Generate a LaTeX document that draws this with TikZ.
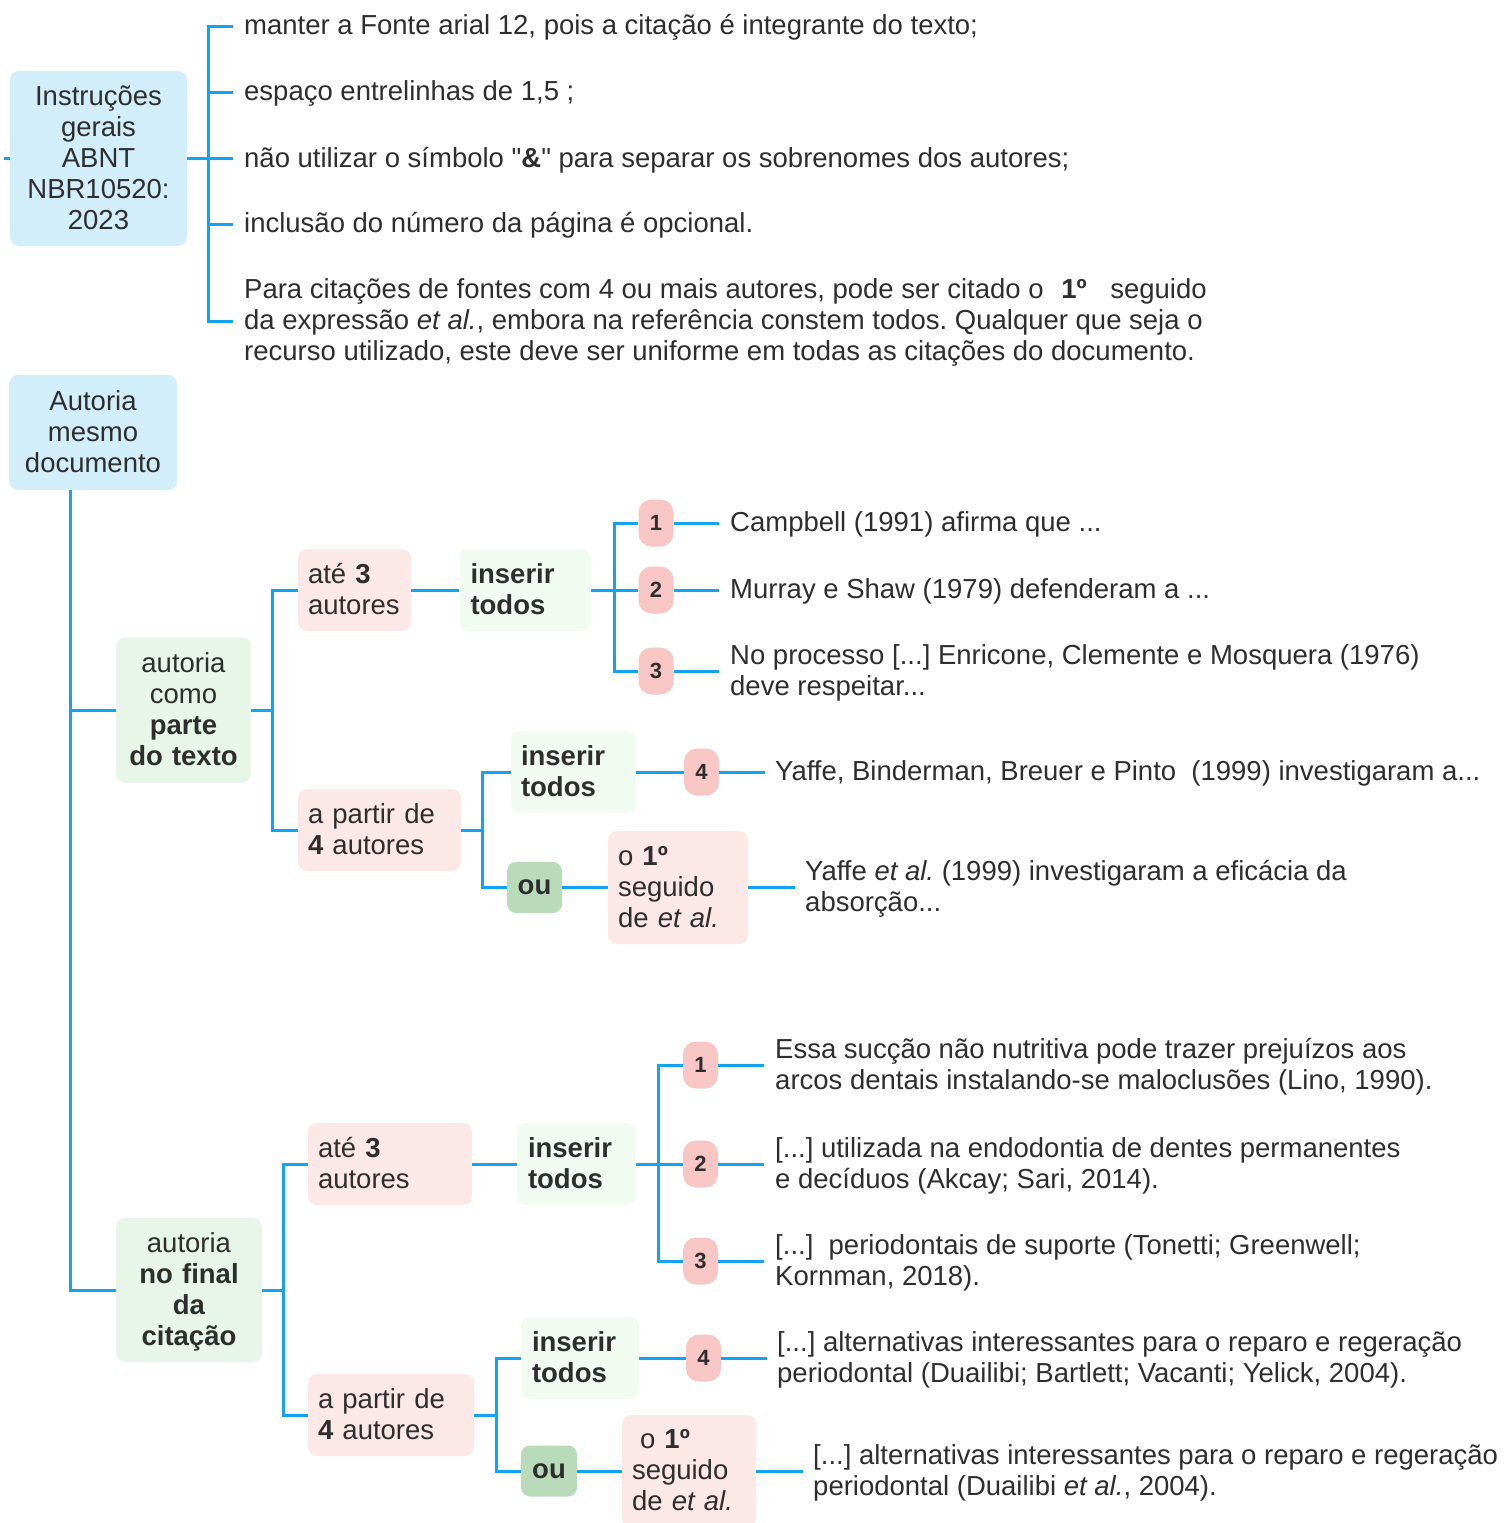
\documentclass[tikz,border=0pt]{standalone}
\usepackage{fontspec}
\setmainfont{Liberation Sans}
\definecolor{lineblue}{HTML}{12A4F2}
\definecolor{txtgray}{HTML}{2E2E2E}
\definecolor{bluefill}{HTML}{D3EEFB}
\definecolor{greenfill}{HTML}{E7F6E9}
\definecolor{pinkfill}{HTML}{FDE8E8}
\definecolor{todofill}{HTML}{F2FBF2}
\definecolor{badgefill}{HTML}{F9C6C6}
\definecolor{oufill}{HTML}{B9DBBA}
\newcommand\mainsz{\fontsize{27.5pt}{31pt}\selectfont\frenchspacing}
\newcommand\ms{\vrule height 24pt depth 7pt width 0pt\relax}
\begin{document}
\begin{tikzpicture}[x=1pt,y=-1pt,
 conn/.style={draw=lineblue, line width=3pt},
 bx/.style={rounded corners=9pt, inner xsep=10pt, inner ysep=0pt, font=\mainsz, text=txtgray},
 bluebox/.style={bx, fill=bluefill, align=center},
 greenbox/.style={bx, fill=greenfill, align=center},
 pinkbox/.style={bx, fill=pinkfill, align=left},
 todobox/.style={bx, fill=todofill, align=left, font=\mainsz\bfseries},
 oubox/.style={bx, fill=oufill, font=\mainsz\bfseries, inner xsep=0pt, align=center},
 badge/.style={rounded corners=13pt, fill=badgefill, minimum width=35pt, minimum height=47pt, inner sep=0pt, text=txtgray, font=\fontsize{22pt}{24pt}\selectfont\bfseries},
 txt/.style={anchor=west, inner xsep=11pt, inner ysep=0pt, align=left, font=\mainsz, text=txtgray},
]
\useasboundingbox (0,0) rectangle (1509,1523);

% ---------- Instruções gerais ----------
\node[bluebox, minimum width=177pt, minimum height=175pt, text width=157pt] (instr) at (98.5,158.5)
 {\ms Instruções\\\ms gerais\\\ms ABNT\\\ms NBR10520:\\\ms 2023};
\coordinate (lefttick) at (4,158.5);
\draw[conn] (lefttick) -- (instr.west);

\node[txt] (t1) at (233,26) {\ms manter a Fonte arial 12, pois a citação é integrante do texto;};
\node[txt] (t2) at (233,92) {\ms espaço entrelinhas de 1,5 ;};
\node[txt] (t3) at (233,158.5) {\ms não utilizar o símbolo \textquotedbl\textbf{\&}\textquotedbl\ para separar os sobrenomes dos autores;};
\node[txt] (t4) at (233,224) {\ms inclusão do número da página é opcional.};
\node[txt] (t5) at (233,321) {\ms Para citações de fontes com 4 ou mais autores, pode ser citado o\hspace{10pt} \textbf{1º}\hspace{16pt} seguido\\
\ms da expressão \textit{et al.}, embora na referência constem todos. Qualquer que seja o\\
\ms recurso utilizado, este deve ser uniforme em todas as citações do documento.};
\coordinate (j0) at (208,158.5);
\draw[conn] (instr.east) -- (j0);
\foreach \c in {t1,t2,t3,t4,t5} \draw[conn] (j0) |- (\c.west);

% ---------- Autoria mesmo documento ----------
\node[bluebox, minimum width=168pt, minimum height=115pt, text width=148pt] (autoria) at (93,432.5)
 {\ms Autoria\\\ms mesmo\\\ms documento};
\coordinate (jA) at (70,490);

% ---------- parte do texto ----------
\node[greenbox, minimum width=135pt, minimum height=145pt, text width=115pt] (A1) at (183.5,710)
 {\ms autoria\\\ms como\\\ms\textbf{parte}\\\ms\textbf{do texto}};
\node[greenbox, minimum width=146pt, minimum height=144pt, text width=126pt] (B1) at (189,1290)
 {\ms autoria\\\ms\textbf{no final}\\\ms\textbf{da}\\\ms\textbf{citação}};
\draw[conn] (jA) |- (A1.west);
\draw[conn] (jA) |- (B1.west);

\node[pinkbox, minimum width=113pt, minimum height=82pt, text width=93pt] (P1) at (354.5,590)
 {\ms até \textbf{3}\\\ms autores};
\node[pinkbox, minimum width=163pt, minimum height=82pt, text width=143pt] (P2) at (379.5,830)
 {\ms a partir de\\\ms\textbf{4} autores};
\coordinate (jB) at (272,710);
\draw[conn] (A1.east) -- (jB);
\draw[conn] (jB) |- (P1.west);
\draw[conn] (jB) |- (P2.west);

\node[todobox, minimum width=130pt, minimum height=82pt, text width=109pt, inner xsep=11pt] (I1) at (525,590)
 {\ms inserir\\\ms todos};
\draw[conn] (P1.east) -- (I1.west);

\node[badge] (b1a) at (656,523) {1};
\node[badge] (b2a) at (656,590) {2};
\node[badge] (b3a) at (656,671) {3};
\coordinate (jC) at (614,590);
\draw[conn] (I1.east) -- (jC);
\foreach \b in {b1a,b2a,b3a} \draw[conn] (jC) |- (\b.west);

\node[txt] (c1a) at (719,523) {\ms Campbell (1991) afirma que ...};
\node[txt] (c2a) at (719,590) {\ms Murray e Shaw (1979) defenderam a ...};
\node[txt] (c3a) at (719,671) {\ms No processo [...] Enricone, Clemente e Mosquera (1976)\\\ms deve respeitar...};
\draw[conn] (b1a.east) -- (c1a.west);
\draw[conn] (b2a.east) -- (c2a.west);
\draw[conn] (b3a.east) -- (c3a.west);

\node[todobox, minimum width=125pt, minimum height=82pt, text width=105pt] (I2) at (573.5,772)
 {\ms inserir\\\ms todos};
\node[oubox, minimum width=55pt, minimum height=51pt] (ou1) at (534.5,887.5) {ou};
\coordinate (jD) at (482,830);
\draw[conn] (P2.east) -- (jD);
\draw[conn] (jD) |- (I2.west);
\draw[conn] (jD) |- (ou1.west);

\node[badge] (b4a) at (701.5,772) {4};
\draw[conn] (I2.east) -- (b4a.west);
\node[txt, inner xsep=10pt] (c4a) at (765,772) {\ms Yaffe, Binderman, Breuer e Pinto\ \ (1999) investigaram a...};
\draw[conn] (b4a.east) -- (c4a.west);

\node[pinkbox, minimum width=140pt, minimum height=113pt, text width=120pt] (F1) at (678,887.5)
 {\ms o \textbf{1º}\\\ms seguido\\\ms de \textit{et al.}};
\draw[conn] (ou1.east) -- (F1.west);
\node[txt, inner xsep=10pt] (c5a) at (795,887.5) {\ms Yaffe \textit{et al.} (1999) investigaram a eficácia da\\\ms absorção...};
\draw[conn] (F1.east) -- (c5a.west);

% ---------- no final da citação ----------
\node[pinkbox, minimum width=164pt, minimum height=82pt, text width=144pt] (P3) at (390,1164)
 {\ms até \textbf{3}\\\ms autores};
\node[pinkbox, minimum width=166pt, minimum height=82pt, text width=146pt] (P4) at (391,1415)
 {\ms a partir de\\\ms\textbf{4} autores};
\coordinate (jE) at (283,1290);
\draw[conn] (B1.east) -- (jE);
\draw[conn] (jE) |- (P3.west);
\draw[conn] (jE) |- (P4.west);

\node[todobox, minimum width=119pt, minimum height=82pt, text width=97pt, inner xsep=11pt] (I3) at (576.5,1164)
 {\ms inserir\\\ms todos};
\draw[conn] (P3.east) -- (I3.west);

\node[badge] (b1b) at (700.5,1065) {1};
\node[badge] (b2b) at (700.5,1164) {2};
\node[badge] (b3b) at (700.5,1261) {3};
\coordinate (jF) at (658,1164);
\draw[conn] (I3.east) -- (jF);
\foreach \b in {b1b,b2b,b3b} \draw[conn] (jF) |- (\b.west);

\node[txt] (c1b) at (764,1065) {\ms Essa sucção não nutritiva pode trazer prejuízos aos\\\ms arcos dentais instalando-se maloclusões (Lino, 1990).};
\node[txt] (c2b) at (764,1164) {\ms [...] utilizada na endodontia de dentes permanentes\\\ms e decíduos (Akcay; Sari, 2014).};
\node[txt] (c3b) at (764,1261) {\ms [...]\ \ periodontais de suporte (Tonetti; Greenwell;\\\ms Kornman, 2018).};
\draw[conn] (b1b.east) -- (c1b.west);
\draw[conn] (b2b.east) -- (c2b.west);
\draw[conn] (b3b.east) -- (c3b.west);

\node[todobox, minimum width=118pt, minimum height=82pt, text width=96pt, inner xsep=11pt] (I4) at (580,1358)
 {\ms inserir\\\ms todos};
\node[oubox, minimum width=56pt, minimum height=51pt] (ou2) at (549,1471) {ou};
\coordinate (jG) at (496,1415);
\draw[conn] (P4.east) -- (jG);
\draw[conn] (jG) |- (I4.west);
\draw[conn] (jG) |- (ou2.west);

\node[badge] (b4b) at (703.5,1358) {4};
\draw[conn] (I4.east) -- (b4b.west);
\node[txt, inner xsep=10pt] (c4b) at (767,1358) {\ms [...] alternativas interessantes para o reparo e regeração\\\ms periodontal (Duailibi; Bartlett; Vacanti; Yelick, 2004).};
\draw[conn] (b4b.east) -- (c4b.west);

\node[pinkbox, minimum width=134pt, minimum height=112pt, text width=114pt] (F2) at (689,1471)
 {\ms\hspace{8pt}o \textbf{1º}\\\ms seguido\\\ms de \textit{et al.}};
\draw[conn] (ou2.east) -- (F2.west);
\node[txt, inner xsep=10pt] (c5b) at (803,1471) {\ms [...] alternativas interessantes para o reparo e regeração\\\ms periodontal (Duailibi \textit{et al.}, 2004).};
\draw[conn] (F2.east) -- (c5b.west);
\end{tikzpicture}
\end{document}
